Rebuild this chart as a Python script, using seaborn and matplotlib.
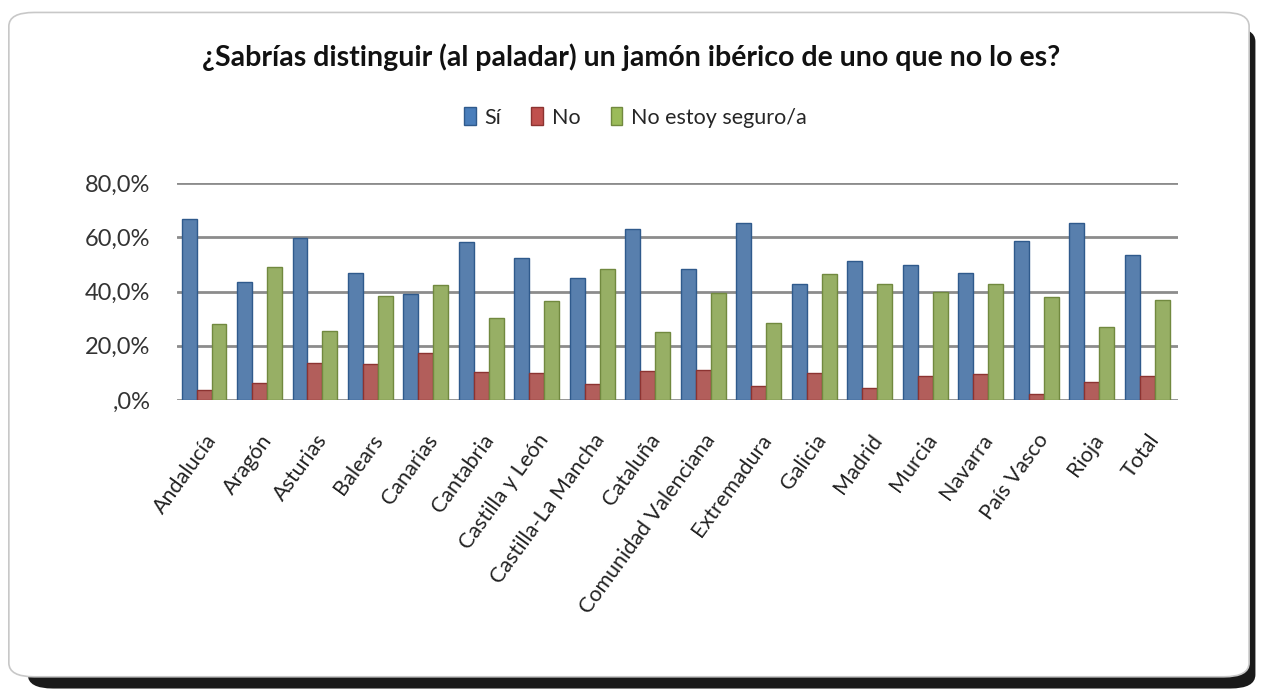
import matplotlib
matplotlib.use("Agg")
import matplotlib.pyplot as plt
from matplotlib.patches import FancyBboxPatch, Patch
import pandas as pd
import seaborn as sns

# Daten (in %)
regiones = ["Andalucía", "Aragón", "Asturias", "Balears", "Canarias", "Cantabria",
            "Castilla y León", "Castilla-La Mancha", "Cataluña", "Comunidad Valenciana",
            "Extremadura", "Galicia", "Madrid", "Murcia", "Navarra", "País Vasco",
            "Rioja", "Total"]
si = [66.7, 43.6, 59.6, 46.9, 39.0, 58.4, 52.5, 44.9, 63.0, 48.4,
      65.3, 42.8, 51.4, 49.8, 46.9, 58.5, 65.2, 53.3]
no = [3.7, 6.2, 13.6, 13.3, 17.3, 10.4, 10.1, 5.9, 10.6, 11.1,
      5.1, 10.0, 4.6, 8.8, 9.6, 2.3, 6.7, 8.8]
no_seguro = [28.1, 48.9, 25.4, 38.3, 42.5, 30.4, 36.5, 48.3, 25.2, 39.5,
             28.3, 46.3, 42.7, 39.8, 42.7, 37.9, 26.9, 36.7]
series = ["Sí", "No", "No estoy seguro/a"]
ytick_vals = [0, 20, 40, 60, 80]
ytick_labels = [",0%", "20,0%", "40,0%", "60,0%", "80,0%"]
titulo = "¿Sabrías distinguir (al paladar) un jamón ibérico de uno que no lo es?"

farben = ["#4a7ebb", "#c0504d", "#9bbb59"]
kanten = ["#2f5a8c", "#8c3331", "#71893f"]

df = pd.DataFrame({
    "Región": regiones * 3,
    "Serie": [series[0]] * len(regiones) + [series[1]] * len(regiones) + [series[2]] * len(regiones),
    "Valor": si + no + no_seguro,
})

sns.set_style("white")
plt.rcParams["font.family"] = ["Lato", "DejaVu Sans"]

fig = plt.figure(figsize=(12.63, 6.92), dpi=100)

# Rahmen mit Schatten
schatten = FancyBboxPatch((0.022, 0.005), 0.972, 0.955, boxstyle="round,pad=0,rounding_size=0.02",
                          transform=fig.transFigure, facecolor="#1a1a1a", edgecolor="none", zorder=0)
rahmen = FancyBboxPatch((0.007, 0.022), 0.982, 0.96, boxstyle="round,pad=0,rounding_size=0.02",
                        transform=fig.transFigure, facecolor="white", edgecolor="#c8c8c8",
                        linewidth=1.2, zorder=1)
fig.patches.extend([schatten, rahmen])

ax = fig.add_axes([0.140, 0.422, 0.793, 0.3135])
ax.set_facecolor("none")
ax.set_zorder(2)

sns.barplot(data=df, x="Región", y="Valor", hue="Serie", hue_order=series,
            palette=farben, width=0.81, ax=ax, legend=False, zorder=3)

for i, cont in enumerate(ax.containers):
    for bar in cont:
        bar.set_edgecolor(kanten[i])
        bar.set_linewidth(1.0)

ax.set_ylim(0, 80)
ax.set_xlim(-0.49, len(regiones) - 0.44)
ax.set_yticks(ytick_vals)
ax.set_yticklabels(ytick_labels, fontsize=17, color="#333333")
ax.yaxis.grid(True, color="#8c8c8c", linewidth=2)
ax.set_axisbelow(True)
for s in ax.spines.values():
    s.set_visible(False)
ax.tick_params(axis="both", length=0)
ax.tick_params(axis="y", pad=19)
ax.set_xlabel("")
ax.set_ylabel("")
ax.set_xticks(range(len(regiones)))
ax.set_xticklabels(regiones, rotation=54, ha="right", rotation_mode="anchor",
                   fontsize=15.5, color="#222222")
ax.tick_params(axis="x", pad=22)

fig.text(0.5, 0.918, titulo, ha="center", va="center", fontsize=20.5, fontweight="bold", color="#111111")

handles = [Patch(facecolor=farben[i], edgecolor=kanten[i]) for i in range(3)]
fig.legend(handles, series, loc="center", bbox_to_anchor=(0.503, 0.83), ncol=3, frameon=False,
           fontsize=15.5, handlelength=0.55, handleheight=0.9, handletextpad=0.4, columnspacing=1.4)

fig.savefig("out.png", dpi=100)
